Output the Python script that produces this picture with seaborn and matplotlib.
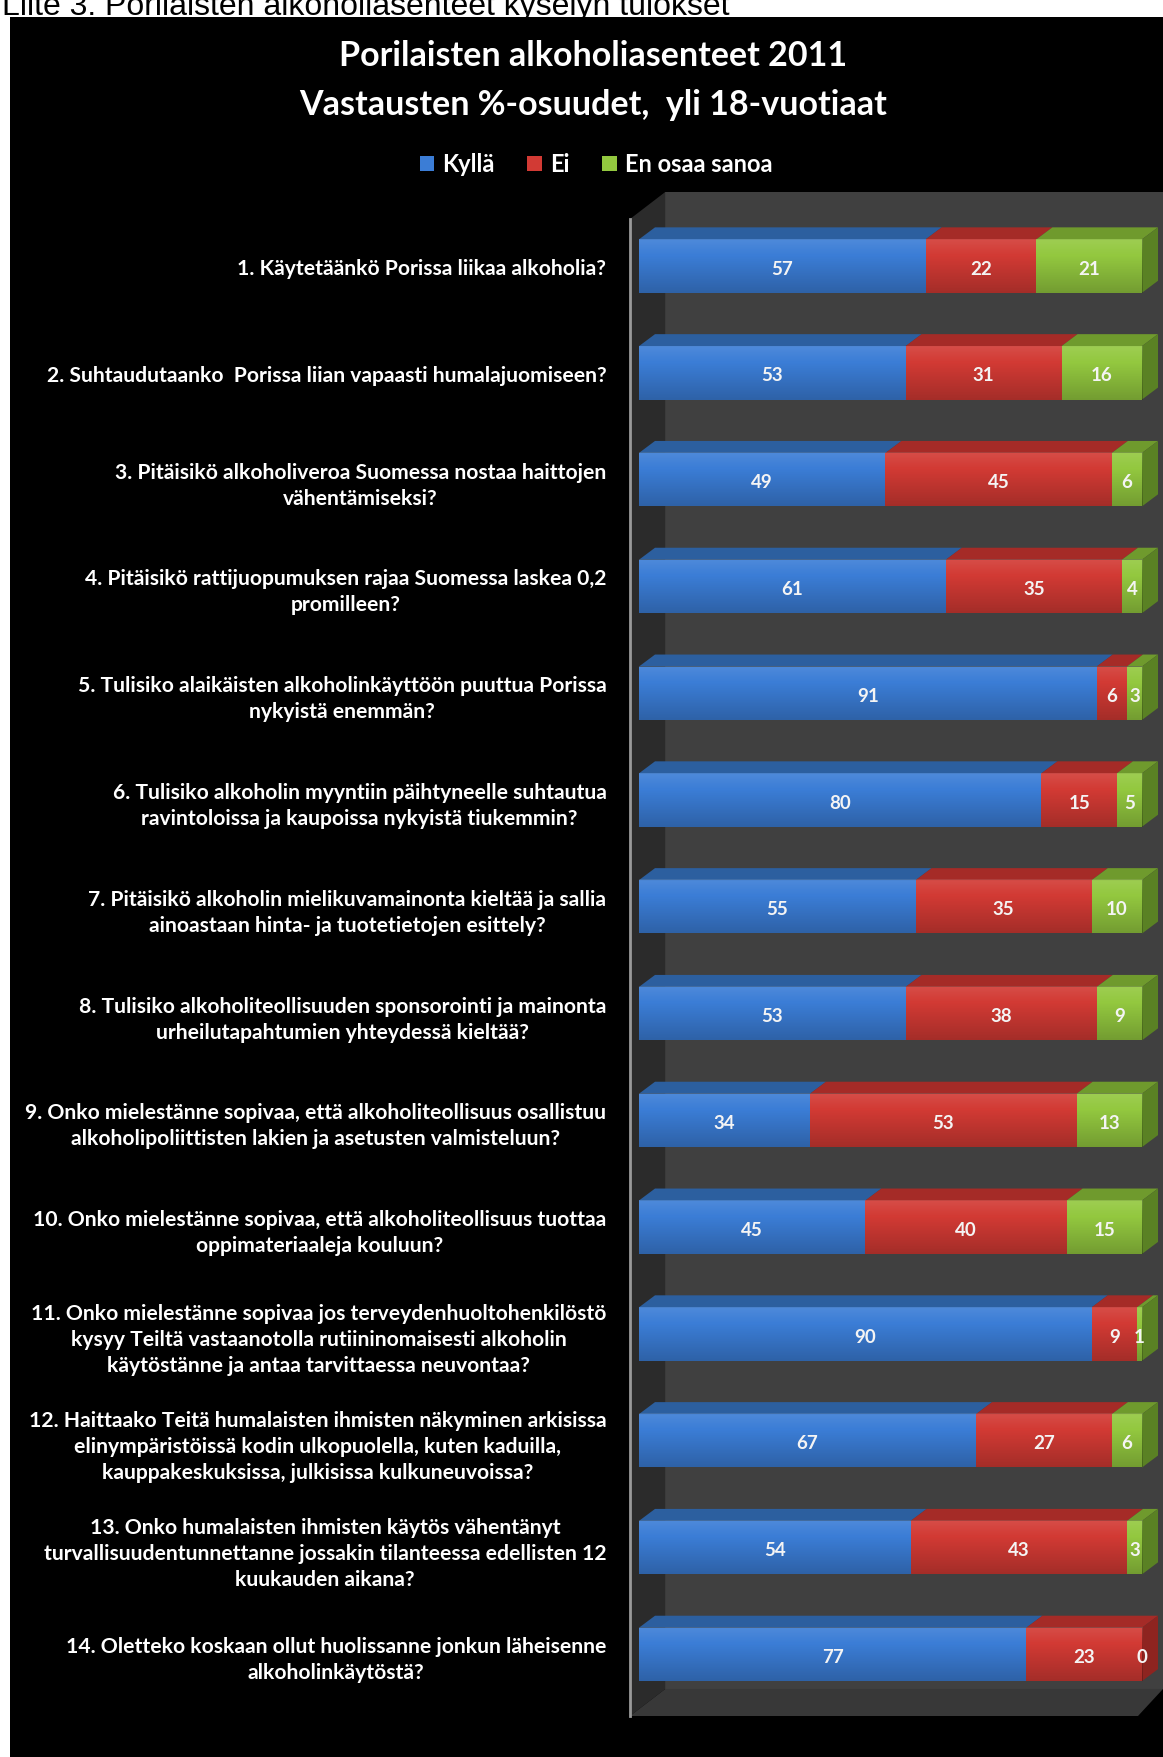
import numpy as np
import pandas as pd
import matplotlib
matplotlib.use("Agg")
import matplotlib.pyplot as plt
import seaborn as sns
from matplotlib.patches import Polygon, Rectangle, Patch

# data ------------------------------------------------------------
questions = [
    "1. Käytetäänkö Porissa liikaa alkoholia?",
    "2. Suhtaudutaanko  Porissa liian vapaasti humalajuomiseen?",
    "3. Pitäisikö alkoholiveroa Suomessa nostaa haittojen\nvähentämiseksi?",
    "4. Pitäisikö rattijuopumuksen rajaa Suomessa laskea 0,2\npromilleen?",
    "5. Tulisiko alaikäisten alkoholinkäyttöön puuttua Porissa\nnykyistä enemmän?",
    "6. Tulisiko alkoholin myyntiin päihtyneelle suhtautua\nravintoloissa ja kaupoissa nykyistä tiukemmin?",
    "7. Pitäisikö alkoholin mielikuvamainonta kieltää ja sallia\nainoastaan hinta- ja tuotetietojen esittely?",
    "8. Tulisiko alkoholiteollisuuden sponsorointi ja mainonta\nurheilutapahtumien yhteydessä kieltää?",
    "9. Onko mielestänne sopivaa, että alkoholiteollisuus osallistuu\nalkoholipoliittisten lakien ja asetusten valmisteluun?",
    "10. Onko mielestänne sopivaa, että alkoholiteollisuus tuottaa\noppimateriaaleja kouluun?",
    "11. Onko mielestänne sopivaa jos terveydenhuoltohenkilöstö\nkysyy Teiltä vastaanotolla rutiininomaisesti alkoholin\nkäytöstänne ja antaa tarvittaessa neuvontaa?",
    "12. Haittaako Teitä humalaisten ihmisten näkyminen arkisissa\nelinympäristöissä kodin ulkopuolella, kuten kaduilla,\nkauppakeskuksissa, julkisissa kulkuneuvoissa?",
    "13. Onko humalaisten ihmisten käytös vähentänyt\nturvallisuudentunnettanne jossakin tilanteessa edellisten 12\nkuukauden aikana?",
    "14. Oletteko koskaan ollut huolissanne jonkun läheisenne\nalkoholinkäytöstä?",
]
kylla = [57, 53, 49, 61, 91, 80, 55, 53, 34, 45, 90, 67, 54, 77]
ei = [22, 31, 45, 35, 6, 15, 35, 38, 53, 40, 9, 27, 43, 23]
eos = [21, 16, 6, 4, 3, 5, 10, 9, 13, 15, 1, 6, 3, 0]
series = ["Kyllä", "Ei", "En osaa sanoa"]

title1 = "Porilaisten alkoholiasenteet 2011"
title2 = "Vastausten %-osuudet,  yli 18-vuotiaat"
caption = "Liite 3. Porilaisten alkoholiasenteet kyselyn tulokset"

front = {"Kyllä": "#3b7dd6", "Ei": "#d23a34", "En osaa sanoa": "#93c83f"}
topc = {"Kyllä": "#2c5f9f", "Ei": "#a52b27", "En osaa sanoa": "#6f9a2d"}
sidec = {"Kyllä": "#24508a", "Ei": "#8e2420", "En osaa sanoa": "#5a8124"}

ids = [str(i + 1) for i in range(len(questions))]
df = pd.DataFrame({"kysymys": ids, "Kyllä": kylla, "Ei": ei, "En osaa sanoa": eos})
df["c_Kyllä"] = df["Kyllä"]
df["c_Ei"] = df["Kyllä"] + df["Ei"]
df["c_En osaa sanoa"] = df["c_Ei"] + df["En osaa sanoa"]

# figure ----------------------------------------------------------
sns.set_style("white")
plt.rcParams["font.family"] = ["Lato", "DejaVu Sans"]

W, H = 1163, 1758
fig = plt.figure(figsize=(W / 100, H / 100), dpi=100)
fig.patch.set_facecolor("white")
fig.add_artist(Rectangle((10 / W, 0), 1, 1 - 18 / H, transform=fig.transFigure,
                         facecolor="black", edgecolor="none", zorder=-10))
fig.text(2 / W, 1 - 15 / H, caption, ha="left", va="baseline", fontsize=23,
         family=["Liberation Sans", "DejaVu Sans"], color="black")

ax = fig.add_axes([630 / W, 1 - 1717 / H, 533 / W, 1524 / H])
ax.set_facecolor("none")

XLIM = (-1.79, 104.17)
YLIM = (13.577, -0.693)
y_top, y_bot = YLIM[1], YLIM[0]
x_ax = XLIM[0]
wall_dx, wall_dy = 7.0, 0.253
bar_dx, bar_dy = 3.18, 0.112
bh = 0.5

# walls
ax.add_patch(Rectangle((x_ax + wall_dx, y_top), XLIM[1] - x_ax - wall_dx,
                       (y_bot - wall_dy) - y_top, facecolor="#404040",
                       edgecolor="none", zorder=0))
ax.add_patch(Polygon([(x_ax, y_top + wall_dy), (x_ax + wall_dx, y_top),
                      (x_ax + wall_dx, y_bot - wall_dy), (x_ax, y_bot)],
                     facecolor="#2b2b2b", edgecolor="none", zorder=0.5))
ax.add_patch(Polygon([(x_ax, y_bot), (99.2, y_bot), (XLIM[1], y_bot - wall_dy),
                      (x_ax + wall_dx, y_bot - wall_dy)],
                     facecolor="#383838", edgecolor="none", zorder=0.5))

# stacked bars (cumulative, widest first)
for s in reversed(series):
    sns.barplot(data=df, x="c_" + s, y="kysymys", order=ids, orient="y",
                color=front[s], saturation=1, width=bh, linewidth=0,
                ax=ax, zorder=3)

# shading on the front faces
grad = np.zeros((64, 1, 4))
t = np.linspace(0, 1, 64)
grad[:, 0, :3] = np.where(t < 0.3, 1.0, 0.0)[:, None]
grad[:, 0, 3] = np.where(t < 0.3, 0.10 * (1 - t / 0.3), 0.22 * (t - 0.3) / 0.7)

for i in range(len(ids)):
    yt, yb = i - bh / 2, i + bh / 2
    ax.imshow(grad, extent=(0, 100, yb, yt), aspect="auto", zorder=3.5,
              interpolation="bilinear")
    start = 0
    last = None
    for s in series:
        v = df.loc[i, s]
        a, b = start, start + v
        if v > 0:
            ax.add_patch(Polygon([(a, yt), (b, yt), (b + bar_dx, yt - bar_dy),
                                  (a + bar_dx, yt - bar_dy)],
                                 facecolor=topc[s], edgecolor="none", zorder=3))
            last = s
        ax.text(a + v / 2, i + 0.02, str(v), ha="center", va="center",
                color="#f4f4f4", fontsize=13.5, fontweight="bold", zorder=5)
        start = b
    ax.add_patch(Polygon([(start, yt), (start + bar_dx, yt - bar_dy),
                          (start + bar_dx, yb - bar_dy), (start, yb)],
                         facecolor=sidec[last], edgecolor="none", zorder=3))

ax.set_xlim(XLIM)
ax.set_ylim(YLIM)
ax.set_xlabel("")
ax.set_ylabel("")
ax.set_xticks([])
ax.set_yticks(range(len(ids)))
ax.set_yticklabels(questions, color="white", fontweight="bold", fontsize=15.2,
                   ma="center", linespacing=1.38)
ax.tick_params(axis="y", length=0, pad=17)
for sp in ["top", "right", "bottom"]:
    ax.spines[sp].set_visible(False)
ax.spines["left"].set_color("#9a9a9a")
ax.spines["left"].set_linewidth(2)
ax.spines["left"].set_bounds(y_top + wall_dy, y_bot)

# title and legend
fig.text(593 / W, 1 - 56 / H, title1, ha="center", va="center", color="white",
         fontsize=24.5, fontweight="bold")
fig.text(593 / W, 1 - 105 / H, title2, ha="center", va="center", color="white",
         fontsize=24.5, fontweight="bold")
handles = [Patch(facecolor=front[s], edgecolor="none") for s in series]
fig.legend(handles, series, loc="center", bbox_to_anchor=(596 / W, 1 - 165 / H),
           ncol=3, frameon=False, prop={"weight": "bold", "size": 17},
           labelcolor="white", handlelength=0.6, handleheight=0.6,
           handletextpad=0.35, columnspacing=1.4)

fig.savefig("out.png", dpi=100, facecolor=fig.get_facecolor())
